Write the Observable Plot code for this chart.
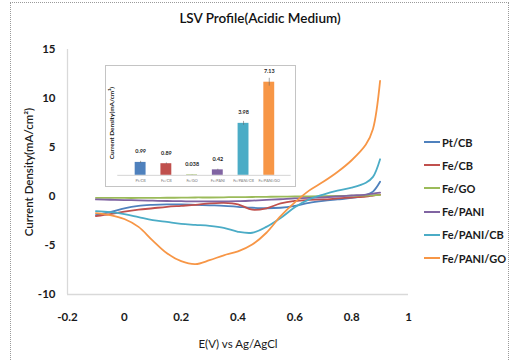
<!DOCTYPE html>
<html><head><meta charset="utf-8">
<script src="https://cdn.jsdelivr.net/npm/d3@7"></script>
<script src="https://cdn.jsdelivr.net/npm/@observablehq/plot@0.6"></script>
<style>
body{margin:0;background:#fff;font-family:Lato,"Open Sans",sans-serif;}
#wrap{position:relative;width:512px;height:360px;overflow:hidden;background:#fff;}
#frame{position:absolute;left:10px;top:2px;width:499px;height:420px;border:1px dotted #9a9a9a;box-sizing:border-box;}
#title{position:absolute;left:160px;width:200px;top:10px;text-align:center;font-size:13.5px;font-weight:600;color:#111;white-space:nowrap;}
#main{position:absolute;left:0;top:0;}
#inset{position:absolute;left:105px;top:65px;width:191px;height:122px;background:#fff;border:1px solid #c4c4c4;box-sizing:border-box;}
#inset svg{position:absolute;left:-1px;top:-1px;}
#legend{position:absolute;left:424px;top:134px;}
.lg{position:absolute;left:0;height:16px;display:flex;align-items:center;font-size:11px;font-weight:bold;color:#1a1a1a;white-space:nowrap;}
.sw{width:16px;height:2px;margin-right:2px;}
</style>
</head><body>
<div id="wrap">
  <div id="frame"></div>
  <div id="main"></div>
  <div id="title">LSV Profile(Acidic Medium)</div>
  <div id="inset"></div>
  <div id="legend"></div>
</div>
<script>
// ---- data ----
const seriesNames = ["Pt/CB","Fe/CB","Fe/GO","Fe/PANI","Fe/PANI/CB","Fe/PANI/GO"];
const seriesColors = ["#4F81BD","#C0504D","#9BBB59","#8064A2","#4BACC6","#F79646"];
const potential = [-0.1,-0.05,0,0.05,0.1,0.15,0.2,0.25,0.3,0.35,0.4,0.45,0.5,0.55,0.6,0.65,0.7,0.75,0.8,0.85,0.875,0.9];
const ptCB     = [-1.9,-1.6,-1.2,-0.95,-0.85,-0.8,-0.8,-0.85,-0.9,-0.95,-1.05,-1.15,-1.2,-1.15,-0.95,-0.65,-0.45,-0.3,-0.15,0.15,0.5,1.5];
const feCB     = [-2.0,-1.8,-1.55,-1.35,-1.2,-1.05,-0.95,-0.85,-0.7,-0.65,-0.8,-1.35,-1.2,-0.7,-0.45,-0.35,-0.3,-0.2,-0.1,0,0.1,0.2];
const feGO     = [-0.15,-0.15,-0.15,-0.15,-0.14,-0.13,-0.12,-0.1,-0.1,-0.08,-0.06,-0.05,-0.03,-0.01,0,0.02,0.04,0.06,0.08,0.1,0.12,0.15];
const fePANI   = [-0.3,-0.33,-0.36,-0.4,-0.43,-0.46,-0.48,-0.5,-0.5,-0.5,-0.48,-0.42,-0.35,-0.28,-0.2,-0.15,-0.08,0,0.1,0.2,0.3,0.4];
const fePANICB = [-1.5,-1.6,-1.8,-2.1,-2.4,-2.6,-2.8,-2.9,-3.0,-3.2,-3.6,-3.7,-3.1,-2.2,-1.1,-0.3,0.2,0.6,0.9,1.4,2.0,3.8];
const fePANIGO = [-1.7,-1.9,-2.3,-3.1,-4.5,-5.8,-6.6,-6.9,-6.5,-6.0,-5.6,-4.9,-3.7,-2.0,-0.6,0.6,1.5,2.5,3.7,5.3,6.9,11.8];
const xTicks = [-0.2,0,0.2,0.4,0.6,0.8,1];
const yTicks = [-10,-5,0,5,10,15];
// inset bar chart
const barValues = [0.99,0.89,0.038,0.42,3.98,7.13];
const barErrors = [0.08,0.06,0.01,0.05,0.15,0.3];

// ---- build ----
const allSeries = [ptCB, feCB, feGO, fePANI, fePANICB, fePANIGO];
const rows = [];
allSeries.forEach((vals, i) => vals.forEach((v, j) => rows.push({series: seriesNames[i], E: potential[j], J: v})));

const font = "Lato, 'Open Sans', sans-serif";
const main = Plot.plot({
  width: 512, height: 360,
  marginLeft: 67, marginRight: 104, marginTop: 49, marginBottom: 66,
  style: {fontFamily: font, background: "transparent", color: "#1a1a1a", overflow: "visible"},
  x: {domain: [-0.2, 1]},
  y: {domain: [-10, 15]},
  color: {domain: seriesNames, range: seriesColors},
  marks: [
    Plot.ruleX([-0.2], {stroke: "#d9d9d9", strokeWidth: 1.3}),
    Plot.ruleY([-10], {stroke: "#d9d9d9", strokeWidth: 1.3}),
    Plot.axisX({ticks: xTicks, tickSize: 0, tickPadding: 18, fontSize: 11.5, fontWeight: "bold", tickFormat: d => String(d), label: null}),
    Plot.axisX({ticks: [], label: "E(V) vs Ag/AgCl", labelAnchor: "center", labelArrow: "none", labelOffset: 53, fontSize: 11.5}),
    Plot.axisY({ticks: yTicks, tickSize: 0, tickPadding: 12, fontSize: 11.5, fontWeight: "bold", tickFormat: d => String(d), label: null}),
    Plot.axisY({ticks: [], label: "Current Density(mA/cm²)", labelAnchor: "center", labelArrow: "none", labelOffset: 43, fontSize: 11.5, fontWeight: 600}),
    Plot.line(rows, {x: "E", y: "J", z: "series", stroke: "series", curve: "catmull-rom", strokeWidth: 1.8})
  ]
});
document.getElementById("main").appendChild(main);

const bars = seriesNames.map((n, i) => ({name: n, value: barValues[i], err: barErrors[i]}));
const inset = Plot.plot({
  width: 191, height: 122,
  marginLeft: 12.4, marginRight: 3.4, marginTop: 5.4, marginBottom: 11,
  style: {fontFamily: font, background: "transparent", color: "#1a1a1a", overflow: "visible"},
  x: {domain: seriesNames, padding: 0.59},
  y: {domain: [0, 8]},
  color: {domain: seriesNames, range: seriesColors},
  marks: [
    Plot.barY(bars, {x: "name", y: "value", fill: "name"}),
    Plot.ruleY([0], {stroke: "#c8c8c8", strokeWidth: 0.8}),
    Plot.ruleX(bars, {x: "name", y1: d => d.value - d.err, y2: d => d.value + d.err, stroke: "#666", strokeWidth: 0.6}),
    Plot.text(bars, {x: "name", y: "value", text: d => String(d.value), dy: -11, fontSize: 5.5, fontWeight: "bold"}),
    Plot.axisX({tickSize: 0, tickPadding: 4, fontSize: 3.8, fill: "#777", label: null}),
    Plot.axisY({ticks: [], label: "Current Density(mA/cm²)", labelAnchor: "center", labelArrow: "none", labelOffset: 8, fontSize: 6.5, fontWeight: "bold"})
  ]
});
document.getElementById("inset").appendChild(inset);

// legend
const lg = d3.select("#legend");
seriesNames.forEach((n, i) => {
  const row = lg.append("div").attr("class", "lg").style("top", (i * 23.2) + "px");
  row.append("div").attr("class", "sw").style("background", seriesColors[i]);
  row.append("span").text(n);
});
</script>
</body></html>
